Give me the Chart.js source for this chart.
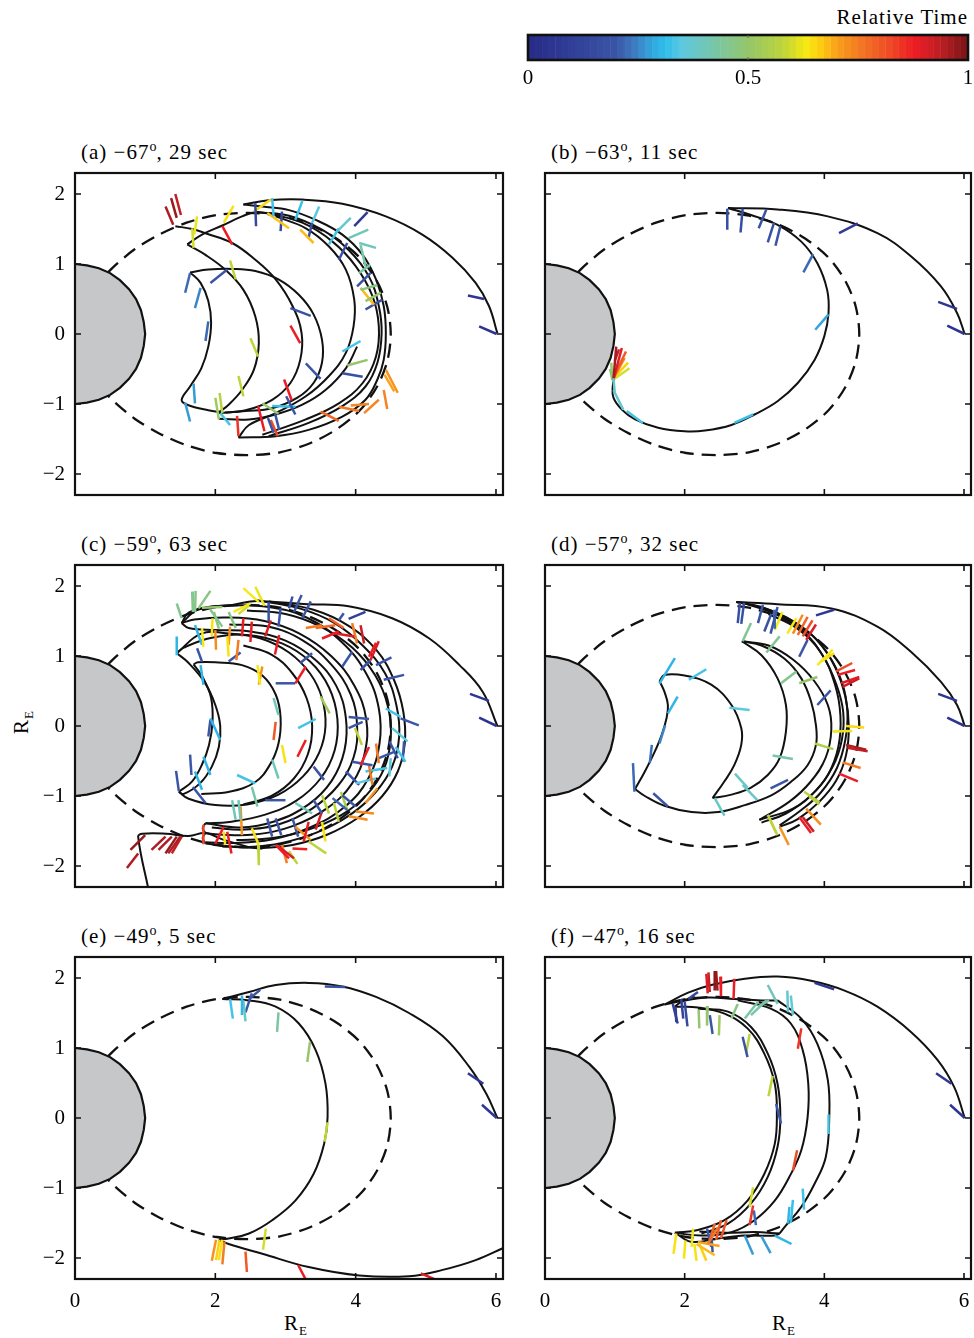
<!DOCTYPE html>
<html><head><meta charset="utf-8">
<script src="https://cdn.jsdelivr.net/npm/chart.js@4.4.0/dist/chart.umd.min.js"></script>
<style>
body{margin:0;background:#fff;width:974px;height:1338px;position:relative;overflow:hidden;font-family:"Liberation Serif","Times New Roman",serif;}
canvas{position:absolute;}
.t{position:absolute;font-size:21px;color:#000;white-space:nowrap;line-height:1;letter-spacing:1px;}
.t sup{font-size:14px;position:relative;top:-2px;vertical-align:top;letter-spacing:0;}
.t sub{font-size:13px;position:relative;top:5px;vertical-align:baseline;line-height:0;}
</style></head><body>
<div class="t" style="right:6px;top:7px;letter-spacing:1px">Relative Time</div>
<div class="t" style="left:81px;top:142px">(a) −67<sup>o</sup>, 29 sec</div>
<div class="t" style="left:551px;top:142px">(b) −63<sup>o</sup>, 11 sec</div>
<div class="t" style="left:81px;top:534px">(c) −59<sup>o</sup>, 63 sec</div>
<div class="t" style="left:551px;top:534px">(d) −57<sup>o</sup>, 32 sec</div>
<div class="t" style="left:81px;top:926px">(e) −49<sup>o</sup>, 5 sec</div>
<div class="t" style="left:551px;top:926px">(f) −47<sup>o</sup>, 16 sec</div>
<div class="t" style="left:284px;top:1313px">R<sub>E</sub></div>
<div class="t" style="left:772px;top:1313px">R<sub>E</sub></div>
<div class="t" style="left:8px;top:709px;transform:rotate(-90deg);transform-origin:14px 11px">R<sub>E</sub></div>
<script>
// ---------- data ----------
const xTickVals = [0, 2, 4, 6];
const xTickLabels = ['0', '2', '4', '6'];
const yTickVals = [-2, -1, 0, 1, 2];
const yTickLabels = ['\u22122', '\u22121', '0', '1', '2'];
const cbarTickVals = [0, 0.5, 1];
const cbarTickLabels = ['0', '0.5', '1'];
const cmapStops = [[0,'#262a87'],[0.05,'#2c3490'],[0.2,'#3a55a6'],[0.24,'#3f7ac0'],[0.28,'#34a6dd'],[0.31,'#2dbdec'],[0.35,'#5dc9df'],[0.41,'#73c6b2'],[0.5,'#95c66b'],[0.58,'#bdd43a'],[0.63,'#f5ea14'],[0.66,'#fdd10f'],[0.7,'#f9a31a'],[0.76,'#f37424'],[0.82,'#ef4b27'],[0.88,'#ec1c24'],[0.94,'#b91f24'],[1,'#771516']];

const earthPts = [[0,1],[0.17,0.98],[0.34,0.94],[0.5,0.87],[0.64,0.77],[0.77,0.64],[0.87,0.5],[0.94,0.34],[0.98,0.17],[1,0],[0.98,-0.17],[0.94,-0.34],[0.87,-0.5],[0.77,-0.64],[0.64,-0.77],[0.5,-0.87],[0.34,-0.94],[0.17,-0.98],[0,-1]];
const dipolePts = [[0.47,0.88],[0.56,0.97],[0.85,1.21],[1.2,1.42],[1.59,1.59],[2.02,1.70],[2.47,1.73],[2.92,1.69],[3.35,1.56],[3.73,1.36],[4.06,1.09],[4.30,0.76],[4.45,0.39],[4.5,0],[4.45,-0.39],[4.30,-0.76],[4.06,-1.09],[3.73,-1.36],[3.35,-1.56],[2.92,-1.69],[2.47,-1.73],[2.02,-1.70],[1.59,-1.59],[1.2,-1.42],[0.85,-1.21],[0.56,-0.97],[0.47,-0.88]];

// panel (a)
const aCurves = [
 [[2.40,1.85],[2.76,1.91],[3.24,1.92],[3.81,1.86],[4.43,1.68],[4.95,1.42],[5.38,1.09],[5.71,0.73],[5.90,0.40],[6.02,0.01]],
 [[2.40,1.85],[2.67,1.82],[3.05,1.77],[3.43,1.63],[3.81,1.42],[4.10,1.13],[4.29,0.78],[4.40,0.40],[4.43,0.01],[4.40,-0.37],[4.31,-0.65],[4.14,-0.94],[3.81,-1.18],[3.33,-1.37],[2.86,-1.46],[2.33,-1.48]],
 [[2.57,1.74],[3.05,1.69],[3.52,1.49],[3.90,1.20],[4.19,0.82],[4.33,0.40],[4.37,0.01],[4.31,-0.41],[4.14,-0.75],[3.81,-1.03],[3.33,-1.27],[2.76,-1.46]],
 [[2.76,1.72],[3.24,1.59],[3.67,1.32],[4.0,0.97],[4.24,0.54],[4.33,0.11],[4.29,-0.32],[4.10,-0.70],[3.76,-0.99],[3.29,-1.22],[2.67,-1.44]],
 [[2.86,1.68],[3.29,1.51],[3.62,1.25],[3.86,0.92],[3.98,0.49],[3.97,0.11],[3.86,-0.27],[3.62,-0.60],[3.29,-0.89],[2.86,-1.13],[2.48,-1.30],[2.33,-1.48]],
 [[1.60,1.28],[1.86,1.13],[2.14,0.92],[2.40,0.63],[2.57,0.25],[2.62,-0.13],[2.55,-0.51],[2.38,-0.80],[2.19,-1.01],[2.05,-1.12]],
 [[1.60,1.28],[1.81,1.42],[2.10,1.55],[2.38,1.68],[2.57,1.74],[2.76,1.72]],
 [[1.86,1.44],[2.24,1.30],[2.57,1.06],[2.86,0.78],[3.10,0.40],[3.23,0.01],[3.21,-0.37],[3.07,-0.70],[2.81,-0.94],[2.43,-1.09],[2.05,-1.13]],
 [[1.64,0.88],[1.90,0.92],[2.24,0.93],[2.57,0.90],[2.90,0.78],[3.19,0.56],[3.40,0.28],[3.52,-0.08],[3.52,-0.41],[3.40,-0.70],[3.17,-0.91],[2.81,-1.06],[2.43,-1.10],[2.14,-1.12]],
 [[1.64,0.88],[1.79,0.73],[1.90,0.47],[1.94,0.16],[1.90,-0.18],[1.80,-0.49],[1.64,-0.75],[1.52,-0.94],[1.60,-1.01],[1.90,-1.09],[2.10,-1.12]],
 [[2.05,-1.21],[2.48,-1.22],[2.86,-1.15],[3.24,-1.01],[3.57,-0.80],[3.86,-0.49],[4.02,-0.18]],
 [[1.43,1.54],[1.67,1.50],[1.86,1.44]]
];
const aTicks = [
 [1.29,1.82,1.40,1.56,0.95],[1.37,1.94,1.45,1.66,0.97],[1.43,2.0,1.51,1.70,0.93],[1.67,1.51,1.69,1.23,0.6],[1.74,1.68,1.70,1.42,0.62],
 [2.12,1.59,2.26,1.83,0.64],[2.10,1.54,2.24,1.28,0.88],[2.57,1.87,2.58,1.54,0.15],[2.55,1.75,2.79,1.92,0.65],[2.81,1.94,2.83,1.68,0.33],
 [2.74,1.73,3.05,1.51,0.67],[2.95,1.75,2.93,1.47,0.15],[3.14,1.63,3.24,1.90,0.32],[3.38,1.59,3.48,1.82,0.35],[3.21,1.49,3.40,1.30,0.68],
 [3.33,1.38,3.38,1.59,0.18],[3.62,1.28,3.76,1.51,0.33],[3.71,1.44,3.93,1.66,0.37],[3.90,1.37,4.18,1.49,0.4],[4.05,1.30,4.29,1.23,0.4],
 [3.98,1.54,4.17,1.74,0.08],[3.76,1.06,3.88,1.30,0.17],[4.07,1.27,4.14,0.97,0.42],[4.05,0.87,4.21,0.99,0.43],[4.02,0.68,4.21,0.87,0.18],
 [4.07,0.63,4.31,0.70,0.47],[4.14,0.47,4.36,0.59,0.5],[4.07,0.66,4.26,0.42,0.68],[4.14,0.35,4.38,0.49,0.18],[3.07,0.37,3.36,0.26,0.18],
 [3.07,0.12,3.21,-0.13,0.88],[2.50,-0.06,2.61,-0.32,0.58],[1.90,0.18,1.86,-0.10,0.22],[1.79,0.66,1.71,0.37,0.25],[1.64,0.87,1.57,0.59,0.22],
 [1.93,0.73,2.17,0.92,0.2],[2.21,1.05,2.29,0.78,0.58],[3.81,-0.25,4.07,-0.10,0.33],[3.88,-0.45,4.17,-0.37,0.5],[3.81,-0.56,4.10,-0.61,0.18],
 [3.29,-0.42,3.50,-0.64,0.2],[4.43,-0.51,4.60,-0.84,0.72],[4.41,-0.58,4.55,-0.82,0.7],[4.40,-0.80,4.45,-1.07,0.74],[2.98,-0.65,3.09,-0.95,0.88],
 [3.01,-0.89,3.14,-1.15,0.2],[2.81,-1.03,3.14,-1.04,0.32],[2.67,-0.99,2.90,-1.14,0.5],[2.33,-0.60,2.40,-0.89,0.58],[2.0,-0.91,2.05,-1.22,0.52],
 [2.06,-0.84,2.10,-1.13,0.57],[2.07,-1.13,2.21,-1.30,0.33],[2.31,-1.17,2.33,-1.46,0.85],[2.61,-1.03,2.70,-1.39,0.88],[2.75,-1.20,2.83,-1.41,0.2],
 [2.79,-1.23,2.89,-1.46,0.82],[2.85,-1.13,2.91,-1.37,0.2],[3.50,-1.11,3.76,-1.24,0.78],[3.76,-1.04,4.05,-1.10,0.76],[3.93,-1.02,4.19,-1.00,0.74],
 [4.12,-1.13,4.33,-0.94,0.74],[1.57,-0.98,1.64,-1.25,0.27],[1.69,-0.71,1.71,-0.99,0.27],[5.60,0.55,5.83,0.50,0.06],[5.76,0.11,6.01,0.0,0.05]
];

// panel (b)
const bCurves = [
 [[2.62,1.80],[3.33,1.78],[4.05,1.68],[4.76,1.44],[5.24,1.11],[5.67,0.68],[5.90,0.30],[6.01,0.0]],
 [[2.62,1.80],[2.95,1.70],[3.33,1.56],[3.67,1.32],[3.90,1.01],[4.04,0.63],[4.06,0.30],[4.0,-0.03],[3.86,-0.37],[3.62,-0.70],[3.33,-0.96],[3.0,-1.15],[2.67,-1.30],[2.29,-1.38],[2.0,-1.39],[1.62,-1.34],[1.29,-1.22],[1.10,-1.08],[0.98,-0.91],[0.97,-0.75],[0.99,-0.63]]
];
const bTicks = [
 [2.61,1.79,2.61,1.49,0.17],[2.83,1.79,2.80,1.45,0.17],[3.17,1.78,3.06,1.51,0.18],[3.28,1.59,3.19,1.31,0.18],[3.37,1.54,3.30,1.26,0.19],
 [4.21,1.44,4.48,1.58,0.08],[3.84,1.14,3.70,0.88,0.22],[4.06,0.28,3.87,0.06,0.28],[5.63,0.46,5.90,0.36,0.06],[5.76,0.12,6.01,0.0,0.05],
 [2.71,-1.27,2.98,-1.15,0.32],[1.17,-1.10,1.40,-1.27,0.33],[0.98,-0.80,1.12,-1.08,0.37],[0.98,-0.63,1.0,-0.85,0.38],
 [0.98,-0.65,1.02,-0.18,0.96],[0.98,-0.65,1.10,-0.20,0.9],[0.99,-0.60,1.16,-0.25,0.8],[0.99,-0.62,1.14,-0.34,0.74],
 [0.99,-0.62,1.19,-0.41,0.66],[0.98,-0.65,1.21,-0.49,0.6],[0.96,-0.65,0.95,-0.41,0.5],[0.97,-0.66,0.93,-0.50,0.45],[1.0,-0.38,1.06,-0.22,0.92]
];

// panel (c)
const cCurves = [
 [[2.76,1.78],[3.33,1.74],[3.90,1.71],[4.52,1.54],[5.05,1.25],[5.48,0.87],[5.81,0.49],[6.02,0.0]],
 [[1.69,0.88],[1.83,0.68],[1.94,0.40],[1.96,0.06],[1.91,-0.27],[1.81,-0.55],[1.67,-0.79],[1.48,-0.94]],
 [[1.69,0.88],[1.75,0.91],[2.0,0.91],[2.38,0.87],[2.67,0.72],[2.86,0.45],[2.93,0.12],[2.90,-0.25],[2.78,-0.55],[2.57,-0.80],[2.20,-0.94],[1.80,-0.97]],
 [[1.45,1.04],[1.62,0.90],[1.85,0.62],[2.0,0.30],[2.07,0.0],[2.05,-0.30],[1.95,-0.58],[1.78,-0.82],[1.55,-0.97],[1.48,-0.94]],
 [[1.48,-0.94],[1.62,-1.04],[2.0,-1.13],[2.45,-1.12],[2.9,-0.98],[3.25,-0.72],[3.48,-0.38],[3.57,0.0],[3.52,0.40],[3.35,0.75],[3.05,1.05],[2.65,1.25],[2.2,1.32],[1.80,1.32],[1.45,1.04]],
 [[1.45,1.04],[1.55,1.12],[1.95,1.26],[2.45,1.30],[2.95,1.18],[3.35,0.92],[3.62,0.55],[3.74,0.1],[3.70,-0.35],[3.50,-0.75],[3.15,-1.07],[2.7,-1.27],[2.2,-1.37],[1.86,-1.39]],
 [[1.52,1.47],[1.62,1.40],[2.0,1.37],[2.5,1.35],[3.0,1.22],[3.42,0.95],[3.72,0.58],[3.86,0.12],[3.84,-0.35],[3.66,-0.78],[3.33,-1.12],[2.85,-1.36],[2.35,-1.45],[1.86,-1.39]],
 [[1.52,1.47],[1.70,1.52],[2.15,1.55],[2.7,1.50],[3.2,1.32],[3.65,1.0],[3.98,0.58],[4.15,0.1],[4.13,-0.38],[3.95,-0.82],[3.60,-1.17],[3.1,-1.43],[2.55,-1.55],[2.05,-1.55],[1.86,-1.53]],
 [[1.52,1.47],[1.75,1.66],[2.2,1.72],[2.76,1.70],[3.3,1.55],[3.8,1.2],[4.15,0.75],[4.33,0.25],[4.34,-0.25],[4.18,-0.75],[3.85,-1.15],[3.35,-1.45],[2.8,-1.62],[2.25,-1.67],[1.86,-1.66]],
 [[2.57,1.80],[3.2,1.68],[3.7,1.47],[4.1,1.15],[4.42,0.75],[4.58,0.3],[4.62,-0.15],[4.52,-0.58],[4.28,-0.95],[3.92,-1.27],[3.45,-1.52],[2.95,-1.67],[2.48,-1.73],[2.10,-1.72]],
 [[2.76,1.78],[3.4,1.66],[3.9,1.43],[4.3,1.08],[4.55,0.65],[4.68,0.2],[4.70,-0.25],[4.60,-0.65],[4.38,-1.0],[4.05,-1.3],[3.6,-1.55],[3.1,-1.70],[2.6,-1.75]],
 [[2.45,1.65],[3.0,1.6],[3.5,1.42],[3.95,1.12],[4.28,0.72],[4.46,0.28],[4.50,-0.18],[4.40,-0.62],[4.16,-0.98],[3.80,-1.27],[3.33,-1.48],[2.82,-1.60],[2.30,-1.63]],
 [[2.2,1.45],[2.75,1.42],[3.25,1.22],[3.65,0.88],[3.93,0.45],[4.02,0.0],[3.97,-0.45],[3.75,-0.85],[3.38,-1.18],[2.92,-1.40],[2.42,-1.48],[1.95,-1.45]],
 [[2.4,1.15],[2.8,1.02],[3.1,0.75],[3.3,0.4],[3.38,0.0],[3.32,-0.4],[3.12,-0.75],[2.8,-1.0],[2.4,-1.12]],
 [[1.05,-2.35],[0.90,-1.58],[0.96,-1.54],[1.3,-1.54],[1.62,-1.57],[1.86,-1.53],[2.1,-1.62],[2.48,-1.73]],
 [[1.86,-1.68],[2.24,-1.72],[2.67,-1.75]],
 [[1.52,1.47],[1.62,1.62],[1.90,1.70],[2.24,1.73],[2.5,1.78],[2.76,1.78]],
 [[1.86,-1.39],[1.82,-1.46],[1.86,-1.53]],
 [[1.86,-1.53],[1.82,-1.60],[1.86,-1.68]]
];
const cTicks = [
 [1.45,1.75,1.52,1.54,0.45],[1.67,1.92,1.68,1.63,0.45],[1.72,1.93,1.71,1.63,0.47],[1.76,1.68,1.93,1.93,0.47],[1.81,1.69,2.10,1.70,0.5],
 [1.93,1.66,2.10,1.42,0.45],[1.98,1.63,2.05,1.39,0.48],[2.19,1.63,2.29,1.40,0.47],[2.40,1.97,2.62,1.77,0.63],[2.57,1.99,2.70,1.72,0.62],
 [2.26,1.63,2.50,1.75,0.63],[2.33,1.60,2.48,1.72,0.6],[1.96,1.54,1.95,1.28,0.64],[2.17,1.28,2.19,0.99,0.64],[1.81,1.40,1.83,1.13,0.63],
 [2.0,1.37,2.01,1.09,0.73],[2.21,1.42,2.19,1.16,0.72],[2.33,1.23,2.30,0.94,0.75],[2.40,1.54,2.38,1.28,0.88],[2.52,1.49,2.50,1.20,0.88],
 [2.79,1.51,2.71,1.28,0.9],[2.91,1.30,2.85,1.02,0.88],[2.76,1.77,2.76,1.49,0.18],[2.93,1.68,2.90,1.42,0.2],[3.05,1.68,3.10,1.85,0.18],
 [3.12,1.63,3.23,1.87,0.2],[3.24,1.54,3.36,1.78,0.2],[3.76,1.51,3.83,1.61,0.2],[3.90,1.53,4.14,1.63,0.1],[1.45,1.28,1.45,1.01,0.3],
 [1.71,1.44,1.81,1.16,0.3],[1.74,1.11,1.81,0.92,0.2],[1.79,0.87,1.83,0.59,0.3],[2.19,0.92,2.36,1.05,0.2],[2.86,0.61,3.14,0.61,0.2],
 [3.14,0.61,3.29,0.85,0.88],[3.21,0.90,3.38,1.04,0.2],[3.29,1.40,3.52,1.44,0.75],[3.43,1.40,3.71,1.44,0.78],[3.52,1.25,3.76,1.35,0.88],
 [3.67,1.33,3.98,1.28,0.9],[3.62,1.54,3.83,1.40,0.78],[3.95,1.47,4.02,1.18,0.75],[4.07,1.44,4.12,1.18,0.92],[4.21,0.94,4.33,1.21,0.9],
 [4.19,0.99,4.29,1.19,0.88],[4.29,0.87,4.51,0.98,0.2],[4.40,0.66,4.69,0.73,0.2],[4.07,0.80,4.21,0.94,0.18],[3.81,0.85,3.95,1.06,0.2],
 [2.83,0.40,2.90,0.16,0.4],[3.50,0.42,3.63,0.18,0.52],[3.18,-0.03,3.43,0.10,0.33],[2.86,0.06,2.83,-0.2,0.8],[3.17,-0.44,3.29,-0.2,0.88],
 [2.95,-0.27,3.0,-0.53,0.64],[3.90,0.13,4.19,0.10,0.2],[3.90,-0.03,4.10,0.06,0.2],[4.43,0.25,4.64,0.13,0.33],[4.64,0.11,4.90,0.01,0.2],
 [3.99,-0.03,4.09,-0.27,0.58],[4.52,-0.03,4.74,-0.22,0.35],[4.07,-0.56,4.19,-0.30,0.88],[4.29,-0.25,4.33,-0.53,0.75],[4.33,-0.46,4.55,-0.37,0.2],
 [4.48,-0.22,4.60,-0.46,0.18],[4.57,-0.30,4.71,-0.51,0.33],[4.50,-0.46,4.48,-0.72,0.35],[4.69,-0.22,4.67,-0.51,0.2],[3.95,-0.51,4.24,-0.56,0.2],
 [4.19,-0.56,4.24,-0.84,0.75],[4.0,-0.82,4.29,-0.75,0.35],[4.14,-0.65,4.45,-0.60,0.33],[3.86,-0.65,4.05,-0.84,0.2],[4.14,-1.10,4.31,-0.89,0.72],
 [4.0,-1.22,4.26,-1.25,0.73],[3.90,-1.29,4.17,-1.34,0.73],[3.81,-0.99,4.0,-1.15,0.2],[3.67,-1.03,3.88,-1.20,0.22],[3.69,-1.10,3.76,-1.37,0.58],
 [3.79,-0.94,3.88,-1.20,0.55],[3.52,-0.99,3.62,-1.25,0.57],[3.40,-1.06,3.52,-1.25,0.2],[3.14,-1.10,3.38,-1.25,0.4],[3.33,-1.37,3.26,-1.65,0.88],
 [3.52,-1.22,3.43,-1.48,0.9],[3.52,-1.37,3.57,-1.65,0.64],[3.33,-1.65,3.58,-1.82,0.58],[3.10,-1.75,3.31,-1.76,0.88],[3.14,-1.44,3.36,-1.63,0.72],
 [2.86,-1.70,3.05,-1.89,0.88],[2.90,-1.72,3.12,-1.89,0.9],[3.05,-1.79,3.17,-1.97,0.58],[2.95,-1.70,3.02,-1.96,0.75],[2.61,-1.70,2.62,-1.99,0.58],
 [2.52,-1.46,2.62,-1.70,0.64],[2.17,-1.51,2.23,-1.82,0.88],[2.0,-1.68,2.12,-1.44,0.88],[1.83,-1.41,1.83,-1.69,0.82],[2.12,-1.51,2.14,-1.70,0.64],
 [2.24,-1.06,2.29,-1.34,0.4],[2.33,-1.06,2.36,-1.34,0.4],[2.36,-1.15,2.38,-1.56,0.72],[2.52,-0.87,2.60,-1.15,0.42],[2.31,-0.70,2.57,-0.82,0.33],
 [2.81,-0.48,2.90,-0.75,0.4],[2.71,-1.06,3.0,-1.06,0.2],[2.74,-1.32,2.81,-1.58,0.2],[2.86,-1.32,2.94,-1.56,0.2],[3.10,-1.32,3.18,-1.58,0.2],
 [3.40,-0.58,3.55,-0.77,0.2],[1.93,0.11,2.07,-0.2,0.3],[1.93,0.09,1.90,-0.15,0.2],[1.83,-0.44,1.93,-0.70,0.3],[1.71,-0.65,1.81,-0.91,0.3],
 [1.64,-0.41,1.66,-0.70,0.2],[1.44,-0.64,1.48,-0.93,0.2],[1.68,-0.87,1.86,-1.10,0.2],[2.60,0.87,2.64,0.59,0.63],[2.67,0.85,2.62,0.59,0.72],
 [0.79,-1.77,1.0,-1.56,0.97],[0.74,-2.03,0.90,-1.82,0.95],[1.09,-1.77,1.29,-1.58,0.95],[1.19,-1.77,1.38,-1.58,0.95],[1.29,-1.82,1.45,-1.58,0.97],
 [1.33,-1.82,1.50,-1.58,0.95],[1.38,-1.82,1.52,-1.58,0.93],[5.63,0.46,5.90,0.36,0.06],[5.76,0.12,6.01,0.0,0.05]
];

// panel (d)
const dCurves = [
 [[2.74,1.77],[3.33,1.74],[4.10,1.68],[4.76,1.42],[5.24,1.06],[5.67,0.63],[5.90,0.30],[6.01,0.0]],
 [[1.64,0.64],[1.71,0.49],[1.76,0.30],[1.74,0.11],[1.67,-0.13],[1.57,-0.37],[1.43,-0.65],[1.29,-0.90]],
 [[1.64,0.64],[1.71,0.73],[2.0,0.72],[2.38,0.59],[2.67,0.30],[2.81,-0.03],[2.81,-0.27],[2.71,-0.56],[2.57,-0.79],[2.40,-1.03]],
 [[1.29,-0.90],[1.43,-1.0],[1.71,-1.14],[2.10,-1.23],[2.48,-1.23],[2.86,-1.13],[3.24,-0.99],[3.52,-0.80],[3.76,-0.56],[3.88,-0.27],[3.88,0.01],[3.81,0.35],[3.67,0.68],[3.43,0.96],[3.1,1.15],[2.82,1.21]],
 [[2.82,1.21],[3.1,1.01],[3.33,0.68],[3.45,0.30],[3.45,-0.08],[3.36,-0.46],[3.19,-0.70],[2.95,-0.88],[2.67,-0.98],[2.40,-1.03]],
 [[2.74,1.77],[3.1,1.70],[3.45,1.55],[3.8,1.32],[4.07,1.0],[4.26,0.6],[4.33,0.2],[4.30,-0.2],[4.18,-0.6],[3.95,-0.95],[3.67,-1.2],[3.36,-1.42]],
 [[2.9,1.74],[3.3,1.6],[3.7,1.35],[3.98,1.0],[4.17,0.6],[4.27,0.2],[4.25,-0.2],[4.12,-0.58],[3.88,-0.92],[3.55,-1.18],[3.07,-1.34]],
 [[2.82,1.21],[3.2,1.15],[3.55,0.95],[3.85,0.65],[4.05,0.3],[4.10,-0.05],[4.02,-0.45],[3.8,-0.8],[3.5,-1.08],[3.07,-1.34]],
 [[3.2,1.6],[3.6,1.4],[3.95,1.05],[4.15,0.6],[4.23,0.15],[4.2,-0.3],[4.05,-0.7],[3.8,-1.0],[3.45,-1.25],[3.1,-1.38]],
 [[2.74,1.77],[3.15,1.68],[3.55,1.50],[3.9,1.22],[4.15,0.85],[4.30,0.42],[4.35,0.0],[4.31,-0.42],[4.17,-0.78],[3.93,-1.08],[3.62,-1.33],[3.36,-1.44]]
];
const dTicks = [
 [2.79,1.76,2.76,1.47,0.17],[2.85,1.76,2.81,1.46,0.18],[3.12,1.73,3.05,1.47,0.2],[3.24,1.60,3.14,1.35,0.18],[3.33,1.70,3.23,1.32,0.2],
 [3.28,1.66,3.29,1.39,0.22],[3.40,1.63,3.29,1.37,0.63],[2.95,1.47,2.83,1.21,0.45],[3.60,1.54,3.47,1.32,0.63],[3.69,1.59,3.55,1.32,0.73],
 [3.76,1.56,3.62,1.30,0.78],[3.83,1.51,3.69,1.28,0.82],[3.88,1.45,3.74,1.23,0.9],[3.88,1.58,4.14,1.66,0.07],[3.76,1.23,3.64,0.99,0.2],
 [3.90,0.87,4.12,1.09,0.63],[3.95,0.92,4.14,1.04,0.65],[3.17,1.05,3.36,1.28,0.45],[3.38,0.61,3.60,0.78,0.45],[3.64,0.61,3.90,0.70,0.5],
 [3.90,0.30,4.09,0.51,0.2],[4.17,0.78,4.40,0.90,0.82],[4.19,0.73,4.44,0.80,0.88],[4.24,0.61,4.50,0.70,0.9],[4.26,0.56,4.50,0.68,0.92],
 [4.31,0.0,4.57,-0.02,0.65],[4.12,-0.08,4.40,-0.07,0.62],[4.31,-0.27,4.60,-0.34,0.95],[4.33,-0.31,4.62,-0.36,0.92],[4.26,-0.52,4.52,-0.60,0.75],
 [4.21,-0.68,4.48,-0.79,0.88],[3.86,-0.25,4.13,-0.33,0.55],[3.26,-0.42,3.55,-0.47,0.42],[3.23,-0.89,3.48,-0.77,0.2],[2.72,-0.68,2.90,-0.88,0.38],
 [2.83,-0.84,3.04,-1.06,0.38],[2.43,-1.03,2.57,-1.28,0.38],[3.71,-0.94,3.93,-1.09,0.57],[3.78,-1.0,3.93,-1.12,0.58],[3.19,-1.27,3.33,-1.56,0.58],
 [3.21,-1.31,3.31,-1.53,0.56],[3.74,-1.18,3.95,-1.41,0.73],[3.64,-1.30,3.81,-1.53,0.88],[3.69,-1.30,3.85,-1.51,0.92],[3.36,-1.44,3.49,-1.70,0.72],
 [1.64,0.61,1.86,0.97,0.3],[2.06,0.66,2.31,0.81,0.33],[1.76,0.18,1.90,0.42,0.3],[1.64,-0.25,1.72,0.01,0.25],[1.50,-0.53,1.53,-0.27,0.23],
 [1.26,-0.53,1.28,-0.94,0.22],[1.55,-0.96,1.76,-1.15,0.2],[2.64,0.26,2.93,0.23,0.35],[5.63,0.46,5.90,0.36,0.06],[5.76,0.12,6.01,0.0,0.05]
];

// panel (e)
const eCurves = [
 [[2.10,1.70],[2.48,1.80],[2.86,1.90],[3.33,1.93],[3.81,1.88],[4.29,1.73],[4.76,1.50],[5.24,1.17],[5.62,0.73],[5.86,0.35],[6.02,0]],
 [[2.10,1.70],[2.48,1.68],[2.86,1.59],[3.19,1.35],[3.43,0.97],[3.57,0.49],[3.60,0.01],[3.55,-0.37],[3.40,-0.80],[3.14,-1.18],[2.81,-1.46],[2.48,-1.65],[2.19,-1.72],[2.05,-1.74]],
 [[2.05,-1.74],[2.19,-1.80],[2.67,-1.94],[3.33,-2.13],[4.05,-2.25],[4.76,-2.26],[5.24,-2.17],[5.71,-2.03],[6.14,-1.84]]
];
const eTicks = [
 [2.21,1.70,2.25,1.42,0.33],[2.38,1.75,2.38,1.47,0.3],[2.40,1.68,2.43,1.38,0.38],[2.43,1.51,2.52,1.78,0.2],[2.48,1.70,2.64,1.83,0.2],
 [3.56,1.88,3.85,1.87,0.18],[2.90,1.51,2.88,1.23,0.43],[3.35,1.09,3.31,0.80,0.5],[3.60,-0.06,3.56,-0.34,0.58],[2.72,-1.58,2.68,-1.88,0.6],
 [5.60,0.64,5.82,0.49,0.07],[5.80,0.19,6.01,0.0,0.06],[2.01,-1.74,1.95,-2.04,0.72],[2.06,-1.74,2.01,-2.03,0.66],[2.10,-1.74,2.05,-2.03,0.64],
 [2.13,-1.77,2.10,-2.09,0.75],[2.43,-1.91,2.45,-2.20,0.8],[3.18,-2.10,3.29,-2.31,0.88],[4.93,-2.22,5.14,-2.31,0.9]
];

// panel (f)
const fCurves = [
 [[1.71,1.62],[2.05,1.79],[2.38,1.90],[2.86,1.99],[3.33,2.02],[3.81,1.96],[4.29,1.82],[4.76,1.59],[5.24,1.23],[5.62,0.83],[5.86,0.44],[6.01,0]],
 [[1.71,1.62],[1.95,1.67],[2.33,1.72],[2.71,1.70],[3.1,1.68],[3.33,1.68]],
 [[3.33,1.68],[3.67,1.42],[3.90,1.06],[4.05,0.54],[4.07,0.0],[4.02,-0.56],[3.86,-0.94],[3.67,-1.27],[3.43,-1.56],[3.36,-1.65]],
 [[2.76,1.68],[3.24,1.56],[3.52,1.35],[3.69,0.97],[3.77,0.49],[3.76,0.01],[3.67,-0.46],[3.5,-0.84],[3.29,-1.18],[3.0,-1.46],[2.67,-1.63],[2.24,-1.68],[1.86,-1.64]],
 [[1.86,1.59],[2.19,1.58],[2.57,1.49],[2.90,1.28],[3.14,0.92],[3.29,0.49],[3.32,0.06],[3.29,-0.37],[3.14,-0.80],[2.90,-1.18],[2.57,-1.46],[2.19,-1.60],[1.86,-1.64]],
 [[2.19,1.56],[2.62,1.52],[2.95,1.30],[3.19,0.92],[3.33,0.49],[3.37,0.01],[3.33,-0.41],[3.19,-0.84],[2.95,-1.22],[2.62,-1.51],[2.24,-1.65]],
 [[1.86,-1.64],[2.10,-1.77],[2.48,-1.72],[2.86,-1.68],[3.29,-1.68],[3.36,-1.65]],
 [[2.21,-1.62],[2.6,-1.64],[3.0,-1.63],[3.36,-1.65]],
 [[1.86,1.59],[1.95,1.66],[2.14,1.74]]
];
const fTicks = [
 [2.31,2.06,2.33,1.78,0.9],[2.34,2.08,2.36,1.80,0.92],[2.43,2.10,2.43,1.82,0.98],[2.45,2.10,2.47,1.82,0.97],[2.51,2.02,2.52,1.74,0.88],
 [2.71,1.99,2.70,1.70,0.88],[1.83,1.63,1.90,1.35,0.1],[1.87,1.59,1.88,1.37,0.12],[1.95,1.70,1.98,1.42,0.12],[2.0,1.66,2.04,1.31,0.15],
 [2.05,1.70,2.19,1.80,0.15],[2.20,1.55,2.21,1.28,0.5],[2.33,1.60,2.32,1.32,0.5],[2.50,1.47,2.49,1.18,0.52],[2.67,1.42,2.76,1.63,0.47],
 [2.36,1.47,2.40,1.20,0.2],[2.86,1.42,3.05,1.66,0.43],[2.95,1.47,3.17,1.68,0.42],[3.05,1.59,3.21,1.68,0.42],[3.19,1.90,3.33,1.63,0.4],
 [3.47,1.82,3.48,1.51,0.37],[3.52,1.75,3.55,1.47,0.36],[3.86,1.93,4.14,1.84,0.07],[2.83,1.16,2.90,0.87,0.2],[2.93,1.20,2.88,0.92,0.57],
 [3.26,0.60,3.20,0.31,0.58],[3.67,1.28,3.62,0.99,0.85],[3.31,0.20,3.38,-0.08,0.2],[4.06,0.05,4.06,-0.23,0.33],[3.61,-0.46,3.55,-0.75,0.82],
 [2.98,-0.99,2.93,-1.27,0.6],[2.98,-1.25,2.93,-1.53,0.85],[2.99,-1.32,3.02,-1.53,0.22],[3.69,-1.01,3.71,-1.31,0.33],[3.55,-1.17,3.52,-1.50,0.32],
 [3.50,-1.27,3.48,-1.51,0.3],[3.29,-1.68,3.53,-1.80,0.3],[3.10,-1.69,3.23,-1.93,0.27],[2.86,-1.68,2.98,-1.95,0.27],[2.43,-1.51,2.36,-1.75,0.78],
 [2.52,-1.46,2.45,-1.74,0.8],[2.60,-1.46,2.52,-1.72,0.8],[2.48,-1.56,2.33,-1.80,0.75],[2.17,-1.80,2.43,-1.96,0.68],[2.19,-1.77,2.50,-1.83,0.7],
 [2.21,-1.80,2.31,-2.04,0.66],[1.88,-1.65,1.84,-1.94,0.64],[2.01,-1.75,1.99,-2.01,0.64],[2.12,-1.58,2.10,-1.84,0.62],[2.14,-1.80,2.17,-2.04,0.64],
 [2.32,-1.58,2.38,-1.84,0.2],[2.38,-1.63,2.40,-1.92,0.2],[5.60,0.64,5.82,0.49,0.07],[5.80,0.19,6.01,0.0,0.06]
];

// ---------- drawing ----------
const X_MIN = 0, X_MAX = 6.1, Y_MIN = -2.3, Y_MAX = 2.3;
const FONT = {family: 'Liberation Serif', size: 21};

function hexToRgb(h){ return [parseInt(h.slice(1,3),16), parseInt(h.slice(3,5),16), parseInt(h.slice(5,7),16)]; }
function colorAt(t){
  for (let i = 1; i < cmapStops.length; i++) {
    if (t <= cmapStops[i][0]) {
      const [t0,c0] = cmapStops[i-1], [t1,c1] = cmapStops[i];
      const f = (t - t0) / (t1 - t0), a = hexToRgb(c0), b = hexToRgb(c1);
      return 'rgb(' + a.map((v,k) => Math.round(v + (b[k]-v)*f)).join(',') + ')';
    }
  }
  return cmapStops[cmapStops.length-1][1];
}
const toXY = p => ({x: p[0], y: p[1]});
function noPad(s){ s.paddingTop = 0; s.paddingBottom = 0; s.paddingLeft = 0; s.paddingRight = 0; }

const framePlugin = {
  id: 'frame',
  afterDatasetsDraw(chart) {
    const {ctx, chartArea: a, scales: {x, y}} = chart;
    ctx.save();
    ctx.strokeStyle = '#111';
    ctx.lineWidth = 1.6;
    ctx.beginPath();
    xTickVals.forEach(v => { const p = x.getPixelForValue(v);
      ctx.moveTo(p, a.bottom); ctx.lineTo(p, a.bottom - 6); ctx.moveTo(p, a.top); ctx.lineTo(p, a.top + 6); });
    yTickVals.forEach(v => { const p = y.getPixelForValue(v);
      ctx.moveTo(a.left, p); ctx.lineTo(a.left + 6, p); ctx.moveTo(a.right, p); ctx.lineTo(a.right - 6, p); });
    ctx.stroke();
    ctx.lineWidth = 2.2;
    ctx.strokeRect(a.left, a.top, a.right - a.left, a.bottom - a.top);
    ctx.restore();
  }
};

function panel(box, showX, showY, curves, ticks) {
  const cv = document.createElement('canvas');
  const cl = showY ? 0 : box.l - 10;
  const ct = box.t - 10;
  const cw = showY ? box.r + 8 : 974 - cl;
  const xH = showX ? 40 : 0;
  const ch = 10 + (box.b - box.t) + xH + 6;
  cv.width = cw; cv.height = ch;
  cv.style.left = cl + 'px'; cv.style.top = ct + 'px';
  document.body.appendChild(cv);
  const datasets = [];
  ticks.forEach(tk => datasets.push({data: [{x: tk[0], y: tk[1]}, {x: tk[2], y: tk[3]}],
    borderColor: colorAt(tk[4]), borderWidth: 2.5, showLine: true, pointRadius: 0, tension: 0, borderCapStyle: 'butt'}));
  curves.forEach(c => datasets.push({data: c.map(toXY), borderColor: '#111', borderWidth: 2,
    showLine: true, pointRadius: 0, tension: 0.4}));
  datasets.push({data: dipolePts.map(toXY), borderColor: '#111', borderWidth: 2.3, borderDash: [14, 8],
    showLine: true, pointRadius: 0, tension: 0.3});
  datasets.push({data: earthPts.map(toXY), borderColor: '#111', borderWidth: 2.2, backgroundColor: '#c6c7c9',
    fill: 'shape', showLine: true, pointRadius: 0, tension: 0});
  new Chart(cv, {
    type: 'scatter',
    data: {datasets},
    options: {
      responsive: false, animation: false, devicePixelRatio: 1, events: [],
      layout: {padding: {left: showY ? 0 : 10, top: 10, right: cw - (box.r - cl), bottom: 6}},
      plugins: {legend: {display: false}, tooltip: {enabled: false}},
      scales: {
        x: {type: 'linear', min: X_MIN, max: X_MAX, display: showX,
          grid: {display: false}, border: {display: false},
          afterBuildTicks: s => { s.ticks = xTickVals.map(v => ({value: v})); },
          afterFit: s => { s.height = xH; noPad(s); },
          ticks: {font: FONT, color: '#000', padding: 2, maxRotation: 0, callback: (v, i) => xTickLabels[i]}},
        y: {type: 'linear', min: Y_MIN, max: Y_MAX, display: showY,
          grid: {display: false}, border: {display: false},
          afterBuildTicks: s => { s.ticks = yTickVals.map(v => ({value: v})); },
          afterFit: s => { s.width = showY ? box.l : 0; noPad(s); },
          ticks: {font: FONT, color: '#000', padding: 2, callback: (v, i) => yTickLabels[i]}}
      }
    },
    plugins: [framePlugin]
  });
}

panel({l: 75, t: 173, r: 503, b: 495}, false, true, aCurves, aTicks);
panel({l: 545, t: 173, r: 971, b: 495}, false, false, bCurves, bTicks);
panel({l: 75, t: 565, r: 503, b: 887}, false, true, cCurves, cTicks);
panel({l: 545, t: 565, r: 971, b: 887}, false, false, dCurves, dTicks);
panel({l: 75, t: 957, r: 503, b: 1279}, true, true, eCurves, eTicks);
panel({l: 545, t: 957, r: 971, b: 1279}, true, false, fCurves, fTicks);

// ---------- colorbar ----------
(function(){
  const cv = document.createElement('canvas');
  cv.width = 474; cv.height = 70; cv.style.left = '500px'; cv.style.top = '25px';
  document.body.appendChild(cv);
  const N = 64, datasets = [];
  for (let i = 0; i < N; i++) {
    const c = colorAt((i + 0.5) / N);
    datasets.push({data: [[i / N, (i + 1) / N]], backgroundColor: c, borderColor: c, borderWidth: 0.7,
      borderSkipped: false, barPercentage: 1, categoryPercentage: 1, grouped: false});
  }
  const cbarFrame = {id: 'cbarFrame', afterDatasetsDraw(chart) {
    const {ctx, chartArea: a, scales: {x}} = chart;
    ctx.save(); ctx.strokeStyle = '#111'; ctx.lineWidth = 2.6;
    ctx.strokeRect(a.left, a.top, a.right - a.left, a.bottom - a.top);
    ctx.lineWidth = 1; ctx.strokeStyle = '#666'; ctx.beginPath();
    const p = x.getPixelForValue(0.5);
    ctx.moveTo(p, a.top); ctx.lineTo(p, a.top + 3); ctx.moveTo(p, a.bottom); ctx.lineTo(p, a.bottom - 3);
    ctx.stroke(); ctx.restore();
  }};
  new Chart(cv, {
    type: 'bar',
    data: {labels: [''], datasets},
    options: {
      indexAxis: 'y', responsive: false, animation: false, devicePixelRatio: 1, events: [],
      layout: {padding: {left: 28, right: 6, top: 10, bottom: 1}},
      plugins: {legend: {display: false}, tooltip: {enabled: false}},
      scales: {
        x: {type: 'linear', min: 0, max: 1, grid: {display: false}, border: {display: false},
          afterBuildTicks: s => { s.ticks = cbarTickVals.map(v => ({value: v})); },
          afterFit: s => { s.height = 34; noPad(s); },
          ticks: {font: FONT, color: '#000', padding: -2, maxRotation: 0, callback: (v, i) => cbarTickLabels[i]}},
        y: {display: false}
      }
    },
    plugins: [cbarFrame]
  });
})();
</script>
</body></html>
